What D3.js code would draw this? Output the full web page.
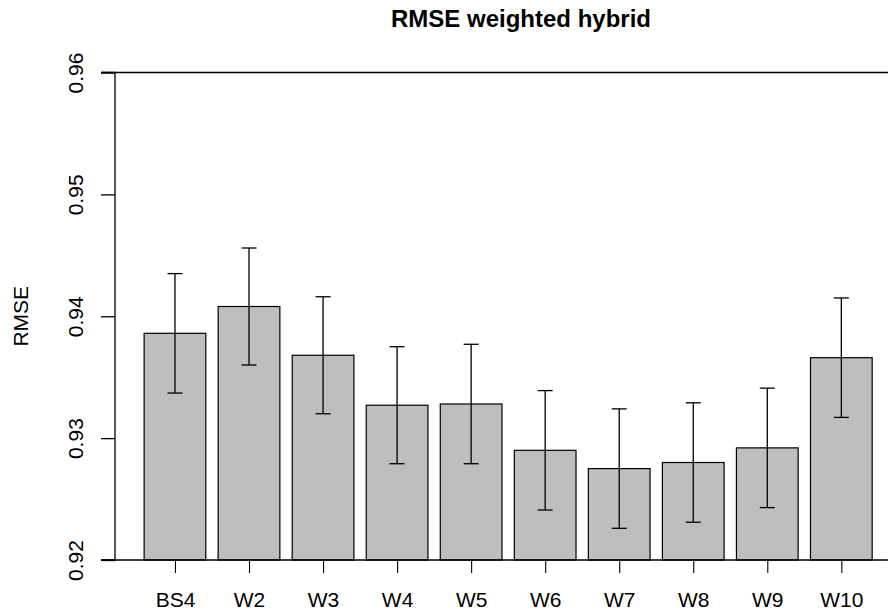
<!DOCTYPE html>
<html>
<head>
<meta charset="utf-8">
<script src="https://cdn.jsdelivr.net/npm/d3@7"></script>
<style>
  html, body { margin: 0; padding: 0; background: #fff; }
  svg { display: block; font-family: "Liberation Sans", Arial, Helvetica, sans-serif; }
</style>
</head>
<body>
<svg id="chart" width="888" height="611"></svg>
<script>
// Models compared and their mean RMSE with standard error
const categories = ["BS4", "W2", "W3", "W4", "W5", "W6", "W7", "W8", "W9", "W10"];
const rmse = [0.9386, 0.9408, 0.9368, 0.9327, 0.9328, 0.9290, 0.9275, 0.9280, 0.9292, 0.9366];
const stderr = [0.0049, 0.0048, 0.0048, 0.0048, 0.0049, 0.0049, 0.0049, 0.0049, 0.0049, 0.0049];
const yTicks = [0.92, 0.93, 0.94, 0.95, 0.96];

const svg = d3.select("#chart");
const W = 888, H = 611;

// Plot region (bars sit on a barplot-style unit axis: width 1, gap 0.2)
const plotLeft = 115, plotTop = 72.5, plotBottom = 560;
const unitPx = 61.7;
const barW = 1, gap = 0.2;
const xMin = -0.272;
const xMax = xMin + (W + 20 - plotLeft) / unitPx;

const x = d3.scaleLinear().domain([xMin, xMax]).range([plotLeft, plotLeft + (xMax - xMin) * unitPx]);
const y = d3.scaleLinear().domain([0.92, 0.96]).range([plotBottom, plotTop]);

const barLeft = i => gap + i * (barW + gap);
const barMid = i => barLeft(i) + barW / 2;

const fs = 21;

// Bars
svg.append("g").selectAll("rect")
  .data(rmse)
  .join("rect")
  .attr("x", (d, i) => x(barLeft(i)))
  .attr("width", (d, i) => x(barLeft(i) + barW) - x(barLeft(i)))
  .attr("y", d => y(d))
  .attr("height", d => y(0.92) - y(d))
  .attr("fill", "#bebebe")
  .attr("stroke", "#000")
  .attr("stroke-width", 1.2);

// Error bars
const eb = svg.append("g").attr("stroke", "#000").attr("stroke-width", 1.3);
rmse.forEach((d, i) => {
  const cx = x(barMid(i));
  const lo = y(d - stderr[i]), hi = y(d + stderr[i]);
  eb.append("line").attr("x1", cx).attr("x2", cx).attr("y1", lo).attr("y2", hi);
  eb.append("line").attr("x1", cx - 7.5).attr("x2", cx + 7.5).attr("y1", lo).attr("y2", lo);
  eb.append("line").attr("x1", cx - 7.5).attr("x2", cx + 7.5).attr("y1", hi).attr("y2", hi);
});

// Reference lines at the bottom and top of the range
svg.append("g").selectAll("line")
  .data([0.92, 0.96])
  .join("line")
  .attr("x1", plotLeft - 14).attr("x2", W)
  .attr("y1", d => y(d)).attr("y2", d => y(d))
  .attr("stroke", "#000").attr("stroke-width", 1.3);

// Y axis
const yAxis = d3.axisLeft(y).tickValues(yTicks).tickSize(14).tickPadding(0)
  .tickFormat(d3.format(".2f"));
const gy = svg.append("g").attr("transform", `translate(${plotLeft},0)`).call(yAxis);
gy.select(".domain").attr("stroke-width", 1.3).attr("d", `M-14,${y(0.92)}H0V${y(0.96)}H-14`);
gy.selectAll(".tick line").attr("stroke-width", 1.3);
gy.selectAll(".tick text")
  .attr("font-size", fs)
  .attr("font-family", "Liberation Sans, Arial, sans-serif")
  .attr("fill", "#000")
  .attr("text-anchor", "middle")
  .attr("dy", 0)
  .attr("x", 0)
  .attr("transform", "translate(-32,0) rotate(-90)");

// X axis ticks at bar centres
const xAxis = d3.axisBottom(x).tickValues(categories.map((c, i) => barMid(i)))
  .tickFormat((d, i) => categories[i]).tickSize(13).tickPadding(0);
const gx = svg.append("g").attr("transform", `translate(0,${plotBottom})`).call(xAxis);
gx.select(".domain").remove();
gx.selectAll(".tick line").attr("stroke-width", 1.1);
gx.selectAll(".tick text")
  .attr("font-size", fs)
  .attr("font-family", "Liberation Sans, Arial, sans-serif")
  .attr("fill", "#000")
  .attr("dy", 0)
  .attr("y", 47);

// Axis title
svg.append("text")
  .attr("transform", `translate(28,${(plotTop + plotBottom) / 2}) rotate(-90)`)
  .attr("text-anchor", "middle")
  .attr("font-size", fs)
  .text("RMSE");

// Chart title
svg.append("text")
  .attr("x", 521).attr("y", 27)
  .attr("text-anchor", "middle")
  .attr("font-size", 24)
  .attr("font-weight", "bold")
  .text("RMSE weighted hybrid");
</script>
</body>
</html>
